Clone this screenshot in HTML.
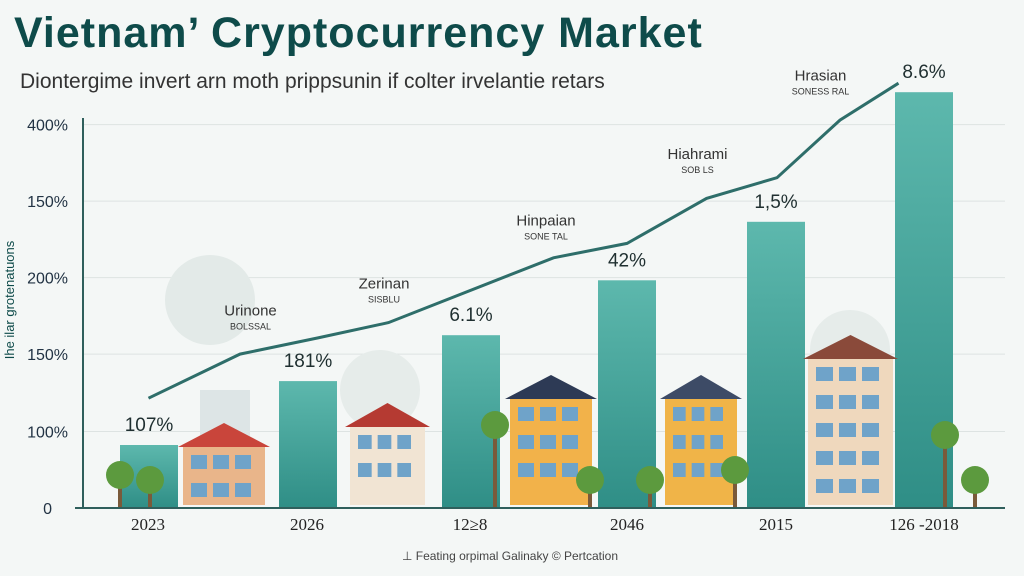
<!DOCTYPE html>
<html><head><meta charset="utf-8"><style>
html,body{margin:0;padding:0;width:1024px;height:576px;overflow:hidden;background:#f4f7f6;font-family:"Liberation Sans",sans-serif}
svg{display:block}
</style></head><body>
<svg id="chart" width="1024" height="576" viewBox="0 0 1024 576">
<defs>
<linearGradient id="barg" x1="0" y1="0" x2="0" y2="1"><stop offset="0" stop-color="#5db8ad"/><stop offset="1" stop-color="#2f8e86"/></linearGradient>
</defs>
<text x="14" y="47" font-size="43" font-weight="bold" letter-spacing="1" fill="#0e4b4a">Vietnam’ Cryptocurrency Market</text>
<text x="20" y="88" font-size="21" fill="#333">Diontergime invert arn moth prippsunin if colter irvelantie retars</text>
<text transform="translate(14,300) rotate(-90)" text-anchor="middle" font-size="13" fill="#0e4b4a">Ihe ilar grotenatuons</text>
<g id="grid"></g>
<g id="yticks"></g>
<circle cx="210" cy="300" r="45" fill="#e3eae8"/>
<circle cx="380" cy="390" r="40" fill="#e6ecea"/>
<circle cx="850" cy="350" r="40" fill="#e6ecea"/>
<rect x="200" y="390" width="50" height="115" fill="#dde5e6"/>
<g id="bars"></g>
<g id="houses"></g>
<path id="trend" fill="none" stroke="#2e6e6a" stroke-width="3"/>
<g id="annots"></g>
<line x1="83" y1="118" x2="83" y2="508" stroke="#2f5f5c" stroke-width="2"/>
<line x1="75" y1="508" x2="1005" y2="508" stroke="#2f5f5c" stroke-width="2"/>
<g id="xlabels"></g>
<text x="510" y="560" text-anchor="middle" font-size="12" fill="#444">⊥ Feating orpimal Galinaky © Pertcation</text>
</svg>
<script>
const categories=["2023","2026","12≥8","2046","2015","126 -2018"];
const barValues=[70,141,192,253,318,462];
const barLabels=["107%","181%","6.1%","42%","1,5%","8.6%"];
const yTickLabels=["0","100%","150%","200%","150%","400%"];
const yTickValues=[0,85,171,256,341,426];
const lineT=[0.19,0.8,1.32,1.79,2.89,3.38,3.91,4.38,4.8,5.19];
const lineValues=[122,171,189,206,278,294,344,367,431,472];
const annotTitles=["Urinone","Zerinan","Hinpaian","Hiahrami","Hrasian"];
const annotSubs=["BOLSSAL","SISBLU","SONE TAL","SOB LS","SONESS RAL"];
const annotT=[0.87,1.76,2.84,3.85,4.67];
const annotValues=[214,244,314,388,475];

const ns="http://www.w3.org/2000/svg";
const y=v=>508-v*0.9;
const x=t=>120+t*150;
const bx=[120,279,442,598,747,895];
function mk(tag,attrs,parent){const e=document.createElementNS(ns,tag);for(const k in attrs)e.setAttribute(k,attrs[k]);parent.appendChild(e);return e;}
const grid=document.getElementById('grid'),yt=document.getElementById('yticks');
yTickValues.forEach((v,i)=>{
 if(i>0){const l=mk('line',{x1:83,x2:1005,y1:y(v),y2:y(v),stroke:'#dde3e2','stroke-width':1},grid);
 
 }
 const t=mk('text',{x:i==0?52:68,y:y(v)+6,'text-anchor':'end','font-size':16,fill:'#234'},yt);
 t.textContent=yTickLabels[i];
 
 
});
const bars=document.getElementById('bars'),xl=document.getElementById('xlabels');
barValues.forEach((v,i)=>{
 const r=mk('rect',{x:bx[i],y:y(v),width:58,height:508-y(v),fill:'url(#barg)'},bars);
 
 
 const t=mk('text',{x:bx[i]+29,y:y(v)-14,'text-anchor':'middle','font-size':19,fill:'#1f2f30'},bars);
 t.textContent=barLabels[i];
 
 
 const c=mk('text',{x:[148,307,470,627,776,924][i],y:530,'text-anchor':'middle','font-size':17,'font-family':'Liberation Serif',fill:'#222'},xl);
 c.textContent=categories[i];
 
 
});
document.getElementById('trend').setAttribute('d',lineT.map((t,i)=>(i?'L':'M')+x(t)+','+y(lineValues[i])).join(' '));
const an=document.getElementById('annots');
annotTitles.forEach((s,i)=>{
 const t=mk('text',{x:x(annotT[i]),y:y(annotValues[i]),'text-anchor':'middle','font-size':15,fill:'#333'},an);
 t.textContent=s;
 
 
 const u=mk('text',{x:x(annotT[i]),y:y(annotValues[i])+14,'text-anchor':'middle','font-size':9,fill:'#333'},an);
 u.textContent=annotSubs[i];
 
 
});
const H=document.getElementById('houses');
const houses=[[183,445,82,60,'#e9b58a','#c9453b'],[350,425,75,80,'#f1e4d3','#b53a32'],[510,397,82,108,'#f2b24a','#2d3a55'],[665,397,72,108,'#f0b448','#3d4b66'],[808,357,85,148,'#efd8bd','#8a4a3a']];
houses.forEach(h=>{
 const g=mk('g',{},H);
 
 
 mk('rect',{x:h[0],y:h[1],width:h[2],height:h[3],fill:h[4]},g);
 mk('polygon',{points:`${h[0]-5},${h[1]+2} ${h[0]+h[2]/2},${h[1]-22} ${h[0]+h[2]+5},${h[1]+2}`,fill:h[5]},g);
 for(let r=0;r<Math.floor(h[3]/28);r++)for(let c=0;c<3;c++)mk('rect',{x:h[0]+8+c*(h[2]-16)/3,y:h[1]+10+r*28,width:(h[2]-16)/3-6,height:14,fill:'#6fa3c9'},g);
});
[[120,475],[150,480],[495,425],[590,480],[650,480],[735,470],[945,435],[975,480]].forEach(p=>{
 const g=mk('g',{},H);
 
 
 mk('rect',{x:p[0]-2,y:p[1],width:4,height:508-p[1],fill:'#7a5a3a'},g);
 mk('circle',{cx:p[0],cy:p[1],r:14,fill:'#5c9a3e'},g);
});
</script>
</body></html>
